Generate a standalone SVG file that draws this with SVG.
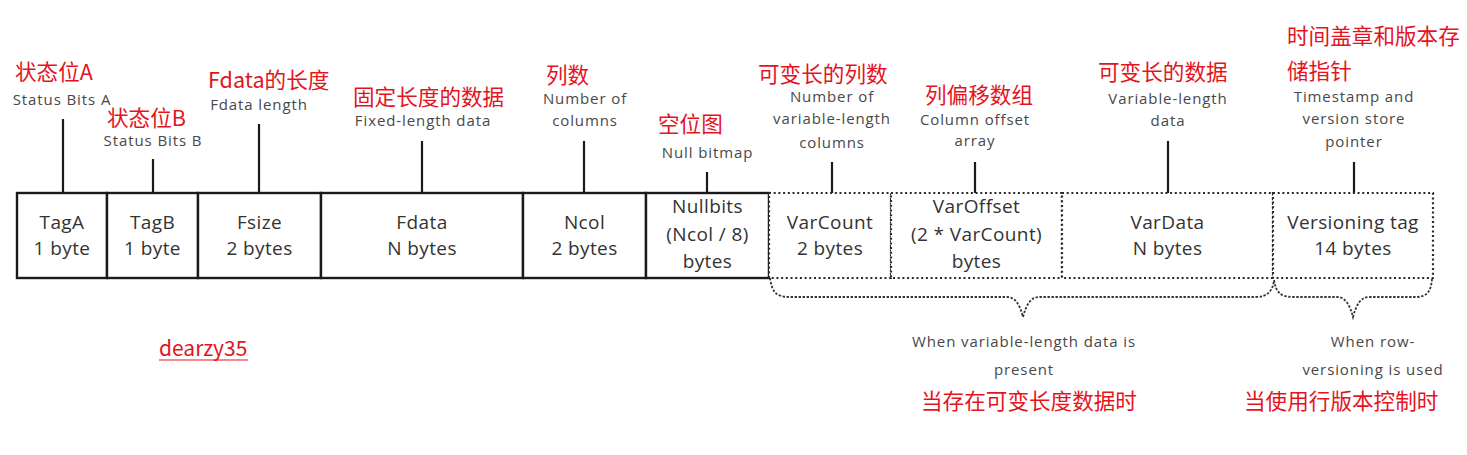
<svg xmlns="http://www.w3.org/2000/svg" width="1467" height="455" viewBox="0 0 1467 455">
<style>
.bg{fill:#ffffff}
.cell{fill:#ffffff;stroke:#1a1a1a;stroke-width:2.4}
.dcell{fill:#ffffff;stroke:#2a2a2a;stroke-width:2.2;stroke-dasharray:2 2.7}
.ctext{font-family:"Open Sans","Liberation Sans",sans-serif;font-size:19px;fill:#333333;text-anchor:middle;letter-spacing:0.4px}
.glabel{font-family:"Open Sans","Liberation Sans",sans-serif;font-size:15px;fill:#484848;text-anchor:middle;letter-spacing:0.9px}
.rlabel{font-family:"Noto Sans CJK SC","Noto Sans",sans-serif;font-size:21.6px;fill:#e4141e}
.lead{stroke:#1a1a1a;stroke-width:2.2;fill:none}
.brace{stroke:#333333;stroke-width:1.8;fill:none;stroke-dasharray:2.4 1.6}
</style>
<rect class="bg" x="0" y="0" width="1467" height="455"/>

<g id="connectors">
  <line class="lead" x1="63" y1="119" x2="63" y2="193"/>
  <line class="lead" x1="153" y1="159" x2="153" y2="193"/>
  <line class="lead" x1="259" y1="124" x2="259" y2="193"/>
  <line class="lead" x1="422" y1="141" x2="422" y2="193"/>
  <line class="lead" x1="584" y1="141" x2="584" y2="193"/>
  <line class="lead" x1="707" y1="172" x2="707" y2="193"/>
  <line class="lead" x1="832" y1="162" x2="832" y2="193"/>
  <line class="lead" x1="975" y1="162" x2="975" y2="193"/>
  <line class="lead" x1="1168" y1="141" x2="1168" y2="193"/>
  <line class="lead" x1="1354" y1="162" x2="1354" y2="193"/>
  <path class="brace" d="M770,278 C772,292 776,297 790,297 L1007,297 C1016,297 1020,306 1023,317 C1026,306 1030,297 1039,297 L1256,297 C1268,297 1273,290 1274,280"/>
  <path class="brace" d="M1274,280 C1276,292 1280,297 1293,297 L1337,297 C1346,297 1350,306 1353,317 C1356,306 1360,297 1369,297 L1416,297 C1428,297 1431,290 1432,279"/>
</g>

<g id="tagA">
  <rect class="cell" x="17" y="193" width="90" height="85"/>
  <text class="ctext" x="62" y="229">TagA</text>
  <text class="ctext" x="62" y="255">1 byte</text>
  <text class="rlabel" x="15" y="80">状态位A</text>
  <text class="glabel" x="62" y="105">Status Bits A</text>
</g>

<g id="tagB">
  <rect class="cell" x="107" y="193" width="91" height="85"/>
  <text class="ctext" x="152.5" y="229">TagB</text>
  <text class="ctext" x="152.5" y="255">1 byte</text>
  <text class="rlabel" x="107" y="126">状态位B</text>
  <text class="glabel" x="153" y="146">Status Bits B</text>
</g>

<g id="fsize">
  <rect class="cell" x="198" y="193" width="123" height="85"/>
  <text class="ctext" x="259.5" y="229">Fsize</text>
  <text class="ctext" x="259.5" y="255">2 bytes</text>
  <text class="rlabel" x="208" y="88">Fdata的长度</text>
  <text class="glabel" x="259" y="110">Fdata length</text>
</g>

<g id="fdata">
  <rect class="cell" x="321" y="193" width="202" height="85"/>
  <text class="ctext" x="422" y="229">Fdata</text>
  <text class="ctext" x="422" y="255">N bytes</text>
  <text class="rlabel" x="353" y="105">固定长度的数据</text>
  <text class="glabel" x="423" y="126">Fixed-length data</text>
</g>

<g id="ncol">
  <rect class="cell" x="523" y="193" width="123" height="85"/>
  <text class="ctext" x="584.5" y="229">Ncol</text>
  <text class="ctext" x="584.5" y="255">2 bytes</text>
  <text class="rlabel" x="546" y="83">列数</text>
  <text class="glabel" x="585" y="104">Number of</text>
  <text class="glabel" x="585" y="126">columns</text>
</g>

<g id="nullbits">
  <rect class="cell" x="646" y="193" width="123" height="85"/>
  <text class="ctext" x="707.5" y="213">Nullbits</text>
  <text class="ctext" x="707.5" y="241">(Ncol / 8)</text>
  <text class="ctext" x="707.5" y="268">bytes</text>
  <text class="rlabel" x="658" y="132">空位图</text>
  <text class="glabel" x="707.5" y="158">Null bitmap</text>
</g>

<g id="varcount">
  <rect class="dcell" x="769" y="193" width="122" height="85"/>
  <text class="ctext" x="830" y="229">VarCount</text>
  <text class="ctext" x="830" y="255">2 bytes</text>
  <text class="rlabel" x="758" y="82">可变长的列数</text>
  <text class="glabel" x="832" y="102">Number of</text>
  <text class="glabel" x="832" y="124">variable-length</text>
  <text class="glabel" x="832" y="148">columns</text>
</g>

<g id="varoffset">
  <rect class="dcell" x="891" y="193" width="171" height="85"/>
  <text class="ctext" x="976.5" y="213">VarOffset</text>
  <text class="ctext" x="976.5" y="241">(2 * VarCount)</text>
  <text class="ctext" x="976.5" y="268">bytes</text>
  <text class="rlabel" x="925" y="103">列偏移数组</text>
  <text class="glabel" x="975" y="125">Column offset</text>
  <text class="glabel" x="975" y="146">array</text>
</g>

<g id="vardata">
  <rect class="dcell" x="1062" y="193" width="211" height="85"/>
  <text class="ctext" x="1167.5" y="229">VarData</text>
  <text class="ctext" x="1167.5" y="255">N bytes</text>
  <text class="rlabel" x="1098" y="80">可变长的数据</text>
  <text class="glabel" x="1168" y="104">Variable-length</text>
  <text class="glabel" x="1168" y="126">data</text>
</g>

<g id="versioning">
  <rect class="dcell" x="1273" y="193" width="160" height="85"/>
  <text class="ctext" x="1353" y="229">Versioning tag</text>
  <text class="ctext" x="1353" y="255">14 bytes</text>
  <text class="rlabel" x="1287" y="44">时间盖章和版本存</text>
  <text class="rlabel" x="1287" y="79">储指针</text>
  <text class="glabel" x="1354" y="102">Timestamp and</text>
  <text class="glabel" x="1354" y="124">version store</text>
  <text class="glabel" x="1354" y="147">pointer</text>
</g>

<g id="note-variable">
  <text class="glabel" x="1024" y="347">When variable-length data is</text>
  <text class="glabel" x="1024" y="375">present</text>
  <text class="rlabel" x="921" y="409">当存在可变长度数据时</text>
</g>

<g id="note-versioning">
  <text class="glabel" x="1373" y="347">When row-</text>
  <text class="glabel" x="1373" y="375">versioning is used</text>
  <text class="rlabel" x="1244" y="409">当使用行版本控制时</text>
</g>

<g id="watermark">
  <text class="rlabel" x="159" y="356" style="font-size:21px">dearzy35</text>
  <line x1="159" y1="360" x2="248" y2="360" stroke="#e4141e" stroke-width="1.2"/>
</g>
</svg>
